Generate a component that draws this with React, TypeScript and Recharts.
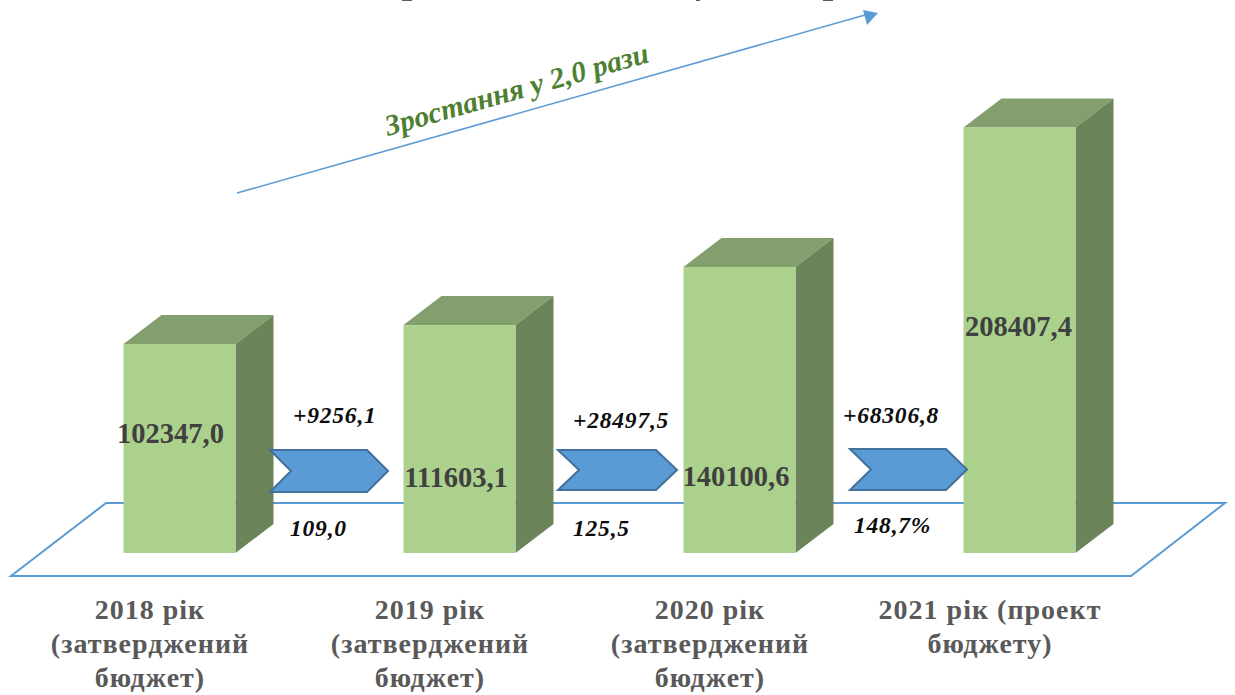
import { BarChart, Bar, XAxis, YAxis, LabelList } from 'recharts';

const years = ['2018 рік (затверджений бюджет)', '2019 рік (затверджений бюджет)', '2020 рік (затверджений бюджет)', '2021 рік (проект бюджету)'];
const budget = [102347.0, 111603.1, 140100.6, 208407.4];
const valueLabels = ['102347,0', '111603,1', '140100,6', '208407,4'];
const tickLines = [
  ['2018 рік', '(затверджений', 'бюджет)'],
  ['2019 рік', '(затверджений', 'бюджет)'],
  ['2020 рік', '(затверджений', 'бюджет)'],
  ['2021 рік (проект', 'бюджету)'],
];
// value labels sit differently on every bar
const labelDx = [47, 52.5, 52.5, 55];
const labelBaseline = [443, 487, 486, 336];

const deltas = ['+9256,1', '+28497,5', '+68306,8'];
const percents = ['109,0', '125,5', '148,7%'];

const data = years.map((year, i) => ({ year, budget: budget[i] }));

const serif = '"Liberation Serif", serif';

function Bar3D(props: any) {
  const { x, y, width, height } = props;
  const dx = 38;
  const dy = 29;
  return (
    <g>
      <polygon points={`${x},${y} ${x + dx},${y - dy} ${x + width + dx},${y - dy} ${x + width},${y}`} fill="#829F6D" />
      <polygon points={`${x + width},${y} ${x + width + dx},${y - dy} ${x + width + dx},${y + height - dy} ${x + width},${y + height}`} fill="#6B8459" />
      <rect x={x} y={y} width={width} height={height} fill="#ABD18D" />
    </g>
  );
}

function YearTick(props: any) {
  const { x, index } = props;
  const lines = tickLines[index];
  return (
    <text textAnchor="middle" fontFamily={serif} fontSize={28} fontWeight={700} fill="#595959" letterSpacing={1}>
      {lines.map((line, i) => (
        <tspan key={i} x={x - 29.5} y={619 + i * 34}>{line}</tspan>
      ))}
    </text>
  );
}

function ValueLabel(props: any) {
  const { x, index } = props;
  return (
    <text x={x + labelDx[index]} y={labelBaseline[index]} textAnchor="middle" fontFamily={serif} fontSize={28.5} fontWeight={700} fill="#404040">
      {valueLabels[index]}
    </text>
  );
}

function Chevron({ x, y, w, h, notch }: { x: number; y: number; w: number; h: number; notch: number }) {
  const pts = [
    [x, y],
    [x + w - notch, y],
    [x + w, y + h / 2],
    [x + w - notch, y + h],
    [x, y + h],
    [x + notch, y + h / 2],
  ];
  return <polygon points={pts.map((p) => p.join(',')).join(' ')} fill="#5B9BD5" stroke="#41719C" strokeWidth={2} />;
}

function Note({ x, y, text }: { x: number; y: number; text: string }) {
  return (
    <text x={x} y={y} fontFamily={serif} fontSize={23.5} fontWeight={700} fontStyle="italic" fill="#0D0D0D" letterSpacing={0.8}>
      {text}
    </text>
  );
}

export default function App() {
  return (
    <div style={{ position: 'absolute', left: 0, top: 0, width: 1235, height: 695, overflow: 'hidden', background: '#fff' }}>
      <BarChart
        width={1235}
        height={695}
        data={data}
        margin={{ top: 0, right: 75.5, bottom: 0, left: 39.5 }}
        barCategoryGap={84}
      >
        {/* floor plane goes under the bars */}
        <polygon points="106,503 1225,503 1131,576 11,576" fill="#fff" stroke="#5B9BD5" strokeWidth={2} />

        <XAxis dataKey="year" axisLine={false} tickLine={false} tick={<YearTick />} interval={0} height={142} />
        <YAxis hide domain={[0, 270800]} />
        <Bar dataKey="budget" shape={<Bar3D />} isAnimationActive={false}>
          <LabelList dataKey="budget" content={<ValueLabel />} />
        </Bar>

        {/* what is left of the cropped title */}
        <rect x={402} y={0} width={10} height={1} fill="#595959" />
        <rect x={696} y={0} width={4} height={1} fill="#595959" />
        <rect x={823} y={0} width={10} height={1} fill="#595959" />

        <line x1={237} y1={193} x2={865} y2={15} stroke="#5B9BD5" strokeWidth={1.5} />
        <polygon points="878,13 863,10 867,25" fill="#5B9BD5" />
        <text
          x={388}
          y={136}
          transform="rotate(-15.8 388 136)"
          fontFamily={serif}
          fontSize={29.5}
          fontWeight={700}
          fontStyle="italic"
          fill="#4E7F32"
        >
          Зростання у 2,0 рази
        </text>

        <Note x={293} y={423} text={deltas[0]} />
        <Note x={573} y={428} text={deltas[1]} />
        <Note x={843} y={423} text={deltas[2]} />
        <Note x={290} y={536} text={percents[0]} />
        <Note x={573} y={536} text={percents[1]} />
        <Note x={854} y={533} text={percents[2]} />
      </BarChart>

      {/* chevrons lie on top of the bars, recharts paints bars last so they get their own layer */}
      <svg width={1235} height={695} style={{ position: 'absolute', left: 0, top: 0, pointerEvents: 'none' }}>
        <Chevron x={270} y={450} w={118} h={42} notch={21} />
        <Chevron x={558} y={450} w={119} h={40} notch={21} />
        <Chevron x={850} y={449} w={117} h={41} notch={21} />
      </svg>
    </div>
  );
}
